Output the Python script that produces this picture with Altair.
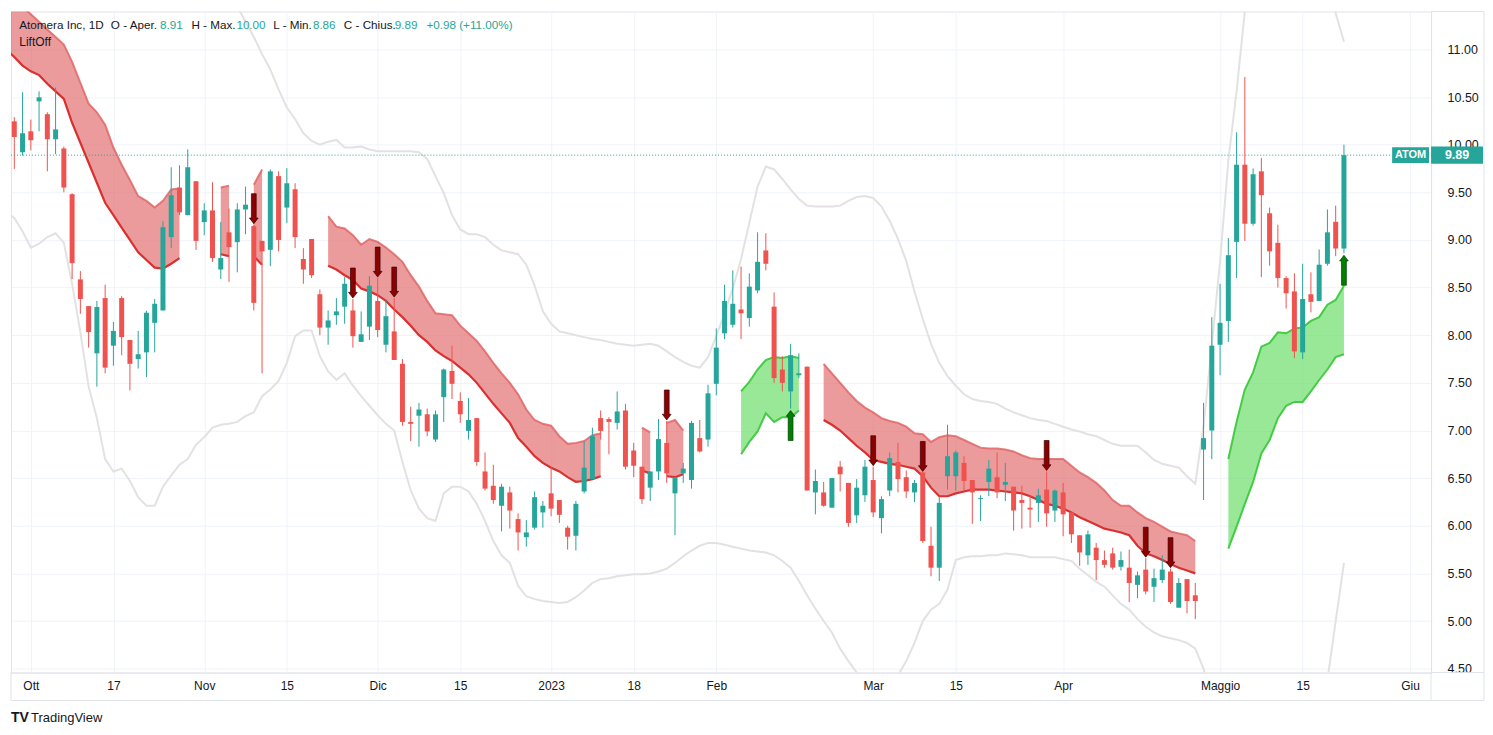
import altair as alt
import pandas as pd

TEAL = "#26a69a"
RED = "#ef5350"
DARK = "#131722"
FONT = "Liberation Sans"

# ---------------- OHLC (bar index 0 = 29 Sep 2022 ... 161 = 22 May 2023) -------------
opens = [10.245, 9.92, 10.14, 10.455, 10.32, 10.057, 9.96, 9.48, 8.586, 8.306,
         7.81, 8.39, 7.89, 8.39, 7.95, 7.75, 7.82, 8.13, 8.26, 9.03,
         9.55, 9.26, 9.616, 9.187, 9.31, 8.69, 9.08, 8.977, 9.32, 9.145,
         8.99, 8.896, 9.67, 9.34, 9.532, 8.80, 9.01, 8.43, 8.08, 8.21,
         8.30, 8.26, 7.93, 8.09, 8.36, 7.90, 8.04, 7.70, 7.09, 7.155,
         7.17, 6.905, 7.35, 7.625, 7.31, 6.996, 7.13, 6.57, 6.42, 6.21,
         6.35, 6.07, 5.88, 5.98, 6.14, 6.34, 6.27, 5.98, 5.895, 6.36,
         6.49, 7.13, 7.12, 7.08, 7.21, 6.79, 6.62, 6.40, 6.57, 6.87,
         6.34, 6.55, 6.48, 6.92, 6.905, 7.49, 8.02, 8.11, 8.27, 8.18,
         8.47, 8.89, 8.30, 7.64, 7.41, 7.58, 7.67, 6.35, 6.35, 6.19,
         6.62, 6.45, 6.11, 6.32, 6.48, 6.08, 6.37, 6.67, 6.51, 6.35,
         6.56, 5.79, 5.56, 6.52, 6.52, 6.66, 6.48, 6.28, 6.46, 6.51,
         6.43, 6.41, 6.27, 6.19, 6.24, 6.38, 6.16, 6.35, 6.14, 5.90,
         5.69, 5.77, 5.64, 5.71, 5.57, 5.56, 5.38, 5.54, 5.36, 5.43,
         5.52, 5.14, 5.44, 5.27, 6.80, 7.00, 7.90, 8.15, 8.98, 9.79,
         9.17, 9.72, 9.28, 8.97, 8.60, 8.46, 7.82, 8.43, 8.36, 8.75,
         9.19, 8.91]
highs = [10.29, 10.55, 10.263, 10.56, 10.34, 10.60, 9.98, 9.49, 8.673, 8.306,
         8.36, 8.53, 8.14, 8.41, 7.95, 8.045, 8.257, 8.38, 9.197, 9.763,
         9.784, 9.95, 9.616, 9.386, 9.606, 9.187, 9.33, 9.386, 9.56, 9.16,
         8.99, 9.74, 9.72, 9.753, 9.595, 8.914, 9.01, 8.48, 8.26, 8.39,
         8.61, 8.38, 8.25, 8.62, 8.60, 8.38, 8.39, 7.75, 7.25, 7.29,
         7.23, 7.21, 7.65, 7.89, 7.40, 7.34, 7.13, 6.77, 6.64, 6.44,
         6.41, 6.13, 6.06, 6.36, 6.26, 6.62, 6.27, 6.00, 6.26, 6.89,
         7.03, 7.21, 7.14, 7.41, 7.28, 6.87, 6.62, 6.57, 7.12, 7.10,
         6.51, 6.66, 7.10, 7.11, 7.48, 8.07, 8.53, 8.68, 8.72, 8.65,
         9.08, 9.07, 8.45, 7.78, 7.91, 7.81, 7.67, 6.59, 6.46, 6.50,
         6.68, 6.45, 6.49, 6.69, 6.62, 6.31, 6.77, 6.87, 6.58, 6.48,
         6.56, 5.99, 6.31, 7.06, 6.79, 6.73, 6.48, 6.32, 6.69, 6.77,
         6.66, 6.41, 6.42, 6.32, 6.39, 6.57, 6.38, 6.45, 6.14, 5.90,
         5.95, 5.82, 5.74, 5.77, 5.73, 5.75, 5.52, 5.66, 5.55, 5.69,
         5.55, 5.45, 5.44, 5.40, 7.29, 8.19, 8.54, 9.02, 10.13, 10.71,
         9.75, 9.86, 9.34, 9.16, 8.62, 8.65, 8.75, 8.66, 8.90, 9.32,
         9.36, 10.00]
lows = [9.745, 9.886, 9.94, 10.14, 9.72, 9.90, 9.50, 8.59, 8.225, 7.87,
        7.46, 7.60, 7.68, 7.79, 7.42, 7.65, 7.56, 7.82, 8.26, 8.914,
        9.26, 9.26, 8.896, 9.05, 8.77, 8.59, 8.56, 8.66, 9.06, 8.26,
        7.60, 8.725, 8.88, 9.176, 8.914, 8.54, 8.60, 8.00, 7.90, 8.11,
        8.12, 7.87, 7.93, 7.95, 7.98, 7.82, 7.74, 7.05, 6.89, 6.83,
        6.94, 6.88, 7.09, 7.33, 7.08, 6.905, 6.63, 6.37, 6.23, 5.94,
        5.97, 5.74, 5.78, 5.96, 5.98, 6.10, 6.03, 5.75, 5.74, 6.34,
        6.49, 6.905, 6.75, 7.01, 6.59, 6.51, 6.23, 6.26, 6.48, 6.45,
        5.90, 6.45, 6.39, 6.77, 6.83, 7.37, 7.96, 8.08, 7.96, 8.09,
        8.44, 8.68, 7.50, 7.41, 7.23, 7.55, 6.37, 6.12, 6.20, 6.19,
        6.36, 5.99, 6.03, 6.25, 6.09, 5.92, 6.31, 6.35, 6.29, 6.25,
        5.82, 5.47, 5.42, 6.38, 6.37, 6.37, 6.02, 6.05, 6.31, 6.29,
        6.26, 5.95, 5.97, 5.98, 6.04, 5.99, 6.04, 5.89, 5.82, 5.58,
        5.59, 5.43, 5.56, 5.54, 5.53, 5.20, 5.24, 5.28, 5.20, 5.40,
        5.18, 5.14, 5.08, 5.02, 6.27, 6.70, 7.58, 7.93, 8.60, 8.99,
        9.15, 8.61, 8.73, 8.50, 8.28, 7.76, 7.75, 8.24, 8.36, 8.73,
        8.83, 8.86]
closes = [10.08, 10.12, 10.046, 10.497, 10.057, 10.16, 9.55, 8.757, 8.38, 8.033,
          8.296, 7.66, 8.045, 7.98, 7.70, 7.80, 8.236, 8.33, 9.134, 9.47,
          9.29, 9.763, 8.99, 9.31, 8.81, 8.81, 8.925, 9.32, 9.37, 8.34,
          8.88, 9.72, 9.00, 9.595, 9.03, 8.69, 8.63, 8.08, 8.155, 8.25,
          8.54, 7.99, 8.01, 8.52, 8.055, 8.20, 7.74, 7.09, 7.07, 7.22,
          6.99, 7.17, 7.64, 7.49, 7.17, 7.11, 6.67, 6.39, 6.27, 6.41,
          6.16, 5.93, 5.93, 6.30, 6.21, 6.18, 6.115, 5.885, 6.23, 6.61,
          6.94, 6.996, 7.09, 7.20, 6.62, 6.63, 6.28, 6.57, 6.91, 6.55,
          6.51, 6.60, 7.08, 6.78, 7.39, 7.87, 8.36, 8.33, 8.23, 8.51,
          8.77, 8.75, 7.55, 7.50, 7.79, 7.60, 6.37, 6.47, 6.21, 6.50,
          6.54, 6.03, 6.40, 6.62, 6.14, 6.28, 6.71, 6.49, 6.36, 6.45,
          5.84, 5.56, 6.24, 6.73, 6.77, 6.47, 6.35, 6.29, 6.60, 6.35,
          6.46, 6.16, 6.24, 6.17, 6.32, 6.13, 6.37, 6.12, 5.91, 5.72,
          5.91, 5.64, 5.59, 5.56, 5.64, 5.40, 5.48, 5.31, 5.45, 5.54,
          5.20, 5.40, 5.21, 5.21, 6.92, 7.89, 8.13, 8.84, 9.79, 9.17,
          9.69, 9.47, 8.88, 8.60, 8.44, 7.83, 8.38, 8.35, 8.74, 9.08,
          8.91, 9.89]

# ---------------- grey envelope (upper / lower), first value = bar -1 ----------------
env_upper = [11.65,
             11.70, 11.75, 11.80, 11.85, 11.90, 11.95, 12.00, 12.10, 12.20, 12.30,
             12.40, 12.50, 12.55, 12.60, 12.60, 12.60, 12.55, 12.50, 12.40, 12.30,
             12.20, 12.10, 12.00, 11.90, 11.80, 11.70, 11.60, 11.45, 11.29, 11.13,
             10.95, 10.79, 10.58, 10.39, 10.27, 10.12, 10.04, 10.00, 10.03, 10.05,
             9.97, 9.97, 9.98, 9.95, 9.93, 9.93, 9.93, 9.93, 9.93, 9.92,
             9.85, 9.67, 9.49, 9.26, 9.11, 9.06, 9.06, 9.03, 8.95, 8.89,
             8.87, 8.85, 8.74, 8.52, 8.25, 8.12, 8.04, 8.02, 8.00, 7.98,
             7.96, 7.95, 7.93, 7.91, 7.90, 7.89, 7.90, 7.91, 7.89, 7.83,
             7.77, 7.72, 7.68, 7.66, 7.77, 7.99, 8.23, 8.49, 8.80, 9.18,
             9.56, 9.77, 9.74, 9.64, 9.53, 9.43, 9.36, 9.35, 9.35, 9.35,
             9.36, 9.41, 9.45, 9.46, 9.44, 9.35, 9.20, 9.01, 8.78, 8.46,
             8.17, 7.91, 7.71, 7.57, 7.47, 7.38, 7.33, 7.31, 7.30, 7.28,
             7.23, 7.19, 7.16, 7.13, 7.11, 7.10, 7.07, 7.04, 7.01, 6.99,
             6.96, 6.94, 6.90, 6.86, 6.84, 6.84, 6.84, 6.77, 6.69, 6.65,
             6.63, 6.61, 6.52, 6.44, 7.05, 7.89, 8.78, 9.83, 10.56, 11.40,
             12.10, 12.50, 12.70, 12.80, 12.80, 12.70, 12.60, 12.30, 12.00, 11.70,
             11.38, 11.08]
env_lower = [9.30,
             9.23, 9.09, 8.92, 8.96, 9.03, 9.07, 8.97, 8.54, 8.03, 7.46,
             7.13, 6.70, 6.57, 6.60, 6.47, 6.30, 6.21, 6.21, 6.41, 6.53,
             6.64, 6.70, 6.85, 6.93, 7.03, 7.06, 7.07, 7.09, 7.15, 7.19,
             7.36, 7.43, 7.52, 7.71, 7.99, 8.05, 8.05, 7.78, 7.62, 7.53,
             7.60, 7.47, 7.36, 7.26, 7.16, 7.07, 7.00, 6.67, 6.37, 6.18,
             6.08, 6.05, 6.34, 6.41, 6.41, 6.36, 6.23, 6.05, 5.84, 5.69,
             5.61, 5.37, 5.26, 5.23, 5.21, 5.20, 5.19, 5.20, 5.25, 5.32,
             5.40, 5.44, 5.45, 5.47, 5.48, 5.49, 5.49, 5.50, 5.52, 5.55,
             5.61, 5.68, 5.74, 5.79, 5.82, 5.82, 5.80, 5.78, 5.76, 5.74,
             5.73, 5.72, 5.69, 5.63, 5.56, 5.42, 5.27, 5.13, 5.00, 4.88,
             4.71, 4.58, 4.46, 4.27, 4.17, 4.17, 4.27, 4.43, 4.58, 4.77,
             5.00, 5.12, 5.18, 5.33, 5.64, 5.67, 5.68, 5.68, 5.69, 5.69,
             5.71, 5.70, 5.69, 5.67, 5.67, 5.67, 5.67, 5.65, 5.63, 5.55,
             5.48, 5.41, 5.36, 5.27, 5.18, 5.12, 5.02, 4.94, 4.88, 4.84,
             4.82, 4.80, 4.77, 4.71, 4.50, 4.17, 3.80, 3.50, 3.20, 3.00,
             2.90, 2.90, 3.00, 3.10, 3.30, 3.50, 3.70, 3.90, 4.10, 4.38,
             5.00, 5.61]

# ---------------- LiftOff bands (segments: start bar, upper, lower) ----------------
red_starts = [-1, 25, 29, 38, 76, 79, 98]
red_upper = [
    [11.61, 11.53, 11.45, 11.37, 11.29, 11.21, 11.13, 11.05, 10.87, 10.65, 10.43, 10.34,
     10.21, 9.97, 9.79, 9.63, 9.46, 9.41, 9.34, 9.41, 9.53, 9.54],
    [9.55, 9.57],
    [9.58, 9.74],
    [9.25, 9.14, 9.12, 9.05, 8.95, 9.01, 8.98, 8.92, 8.85, 8.77, 8.63, 8.51, 8.36,
     8.23, 8.22, 8.21, 8.10, 8.02, 7.94, 7.83, 7.71, 7.60, 7.50, 7.38, 7.22, 7.11,
     7.07, 7.05, 6.94, 6.86, 6.87, 6.89, 6.95, 6.97],
    [7.03, 6.98],
    [7.08, 7.11, 7.00],
    [7.70, 7.60, 7.50, 7.40, 7.31, 7.24, 7.19, 7.13, 7.10, 7.08, 7.04, 6.97, 6.96,
     6.88, 6.93, 6.95, 6.94, 6.90, 6.86, 6.82, 6.81, 6.81, 6.80, 6.78, 6.74, 6.71,
     6.70, 6.70, 6.70, 6.70, 6.63, 6.56, 6.51, 6.45, 6.37, 6.27, 6.21, 6.21, 6.14,
     6.08, 6.04, 5.99, 5.94, 5.92, 5.90, 5.84],
]
red_lower = [
    [11.00, 10.92, 10.83, 10.77, 10.73, 10.64, 10.56, 10.48, 10.23, 10.02, 9.81, 9.60,
     9.39, 9.26, 9.13, 9.00, 8.87, 8.79, 8.71, 8.70, 8.75, 8.81],
    [8.85, 8.83],
    [8.83, 8.74],
    [8.73, 8.69, 8.63, 8.58, 8.49, 8.46, 8.42, 8.36, 8.27, 8.19, 8.10, 8.00, 7.93,
     7.84, 7.78, 7.73, 7.66, 7.59, 7.50, 7.39, 7.28, 7.18, 7.08, 6.92, 6.83, 6.73,
     6.66, 6.61, 6.57, 6.51, 6.46, 6.47, 6.49, 6.52],
    [6.58, 6.55],
    [6.52, 6.51, 6.54],
    [7.11, 7.06, 7.00, 6.92, 6.84, 6.77, 6.69, 6.67, 6.65, 6.64, 6.62, 6.60, 6.52,
     6.40, 6.31, 6.31, 6.34, 6.36, 6.38, 6.38, 6.38, 6.37, 6.36, 6.35, 6.34, 6.31,
     6.27, 6.23, 6.21, 6.18, 6.14, 6.09, 6.05, 6.01, 5.97, 5.95, 5.93, 5.90, 5.79,
     5.71, 5.68, 5.64, 5.60, 5.56, 5.53, 5.50],
]
green_starts = [88, 147]
green_upper = [
    [7.41, 7.51, 7.64, 7.74, 7.77, 7.76, 7.78, 7.76],
    [6.70, 7.09, 7.43, 7.61, 7.88, 7.92, 8.03, 8.02, 8.07, 8.08, 8.15, 8.19, 8.32, 8.37, 8.52],
]
green_lower = [
    [6.75, 6.88, 6.99, 7.18, 7.09, 7.14, 7.14, 7.21],
    [5.76, 5.99, 6.23, 6.46, 6.76, 6.90, 7.13, 7.26, 7.30, 7.30, 7.41, 7.53, 7.64, 7.77, 7.80],
]

# signal arrows (bar indices)
sell_bars = [29, 41, 44, 46, 79, 104, 110, 125, 137, 140]
buy_bars = [94, 161]

# axis ticks
tick_bars = [2, 12, 23, 33, 44, 54, 65, 75, 85, 104, 114, 127, 146, 156, 169]
tick_labels = ["Ott", "17", "Nov", "15", "Dic", "15", "2023", "18", "Feb",
               "Mar", "15", "Apr", "Maggio", "15", "Giu"]
price_ticks = [4.5, 5.0, 5.5, 6.0, 6.5, 7.0, 7.5, 8.0, 8.5, 9.0, 9.5, 10.0, 10.5, 11.0]

n = len(closes)
assert len(opens) == n and len(highs) == n and len(lows) == n
assert len(env_upper) == n + 1 and len(env_lower) == n + 1

# ---------------- frames ----------------
candles = pd.DataFrame({
    "idx": list(range(n)), "o": opens, "h": highs, "l": lows, "c": closes,
})
candles["dir"] = ["up" if c >= o else "down" for o, c in zip(opens, closes)]

env = pd.DataFrame({"idx": list(range(-1, n)), "up": env_upper, "lo": env_lower})


def band_frame(starts, ups, los, kind):
    rows = []
    for k, (s, u, l) in enumerate(zip(starts, ups, los)):
        assert len(u) == len(l)
        for j, (uu, ll) in enumerate(zip(u, l)):
            rows.append({"idx": s + j, "up": uu, "lo": ll, "seg": f"{kind}{k}"})
    return pd.DataFrame(rows)


red_df = band_frame(red_starts, red_upper, red_lower, "r")
green_df = band_frame(green_starts, green_upper, green_lower, "g")

sell_df = pd.DataFrame({"idx": sell_bars, "y": [highs[i] for i in sell_bars]})
buy_df = pd.DataFrame({"idx": buy_bars, "y": [lows[i] for i in buy_bars]})
last_df = pd.DataFrame({"c": [closes[-1]], "lbl": [f"{closes[-1]:.2f}"], "sym": ["ATOM"]})

# ---------------- scales / axes ----------------
xscale = alt.Scale(domain=[-0.4, 171.55], nice=False, zero=False, padding=0)
yscale = alt.Scale(domain=[4.459, 11.398], nice=False, zero=False, padding=0)
lab_map = "{" + ",".join(f"'{b}':'{t}'" for b, t in zip(tick_bars, tick_labels)) + "}"
xaxis = alt.Axis(values=tick_bars, labelExpr=f"{lab_map}[datum.value]", title=None,
                 grid=True, ticks=False, labelPadding=8, labelFontSize=12,
                 labelFont=FONT, labelColor=DARK, domainColor="#e0e3eb",
                 gridColor="#f0f3fa", labelFlush=False)
yaxis = alt.Axis(values=price_ticks, format=".2f", orient="right", title=None,
                 grid=True, ticks=False, labelPadding=16, labelFontSize=12.5,
                 labelFont=FONT, labelColor=DARK, domainColor="#e0e3eb",
                 gridColor="#f0f3fa")


def X():
    return alt.X("idx:Q", scale=xscale, axis=xaxis, title=None)


def Y(field):
    return alt.Y(f"{field}:Q", scale=yscale, axis=yaxis, title=None)


dir_color = alt.Color("dir:N", scale=alt.Scale(domain=["up", "down"], range=[TEAL, RED]), legend=None)

# ---------------- layers ----------------
env_up = alt.Chart(env).mark_line(clip=True, color="#e2e2e2", strokeWidth=2).encode(x=X(), y=Y("up"))
env_lo = alt.Chart(env).mark_line(clip=True, color="#e2e2e2", strokeWidth=2).encode(x=X(), y=Y("lo"))

wick = alt.Chart(candles).mark_rule(strokeWidth=1).encode(
    x=X(), y=Y("l"), y2="h:Q", color=dir_color)
body = alt.Chart(candles).mark_bar(size=5).encode(
    x=X(), y=Y("o"), y2="c:Q", color=dir_color)

red_area = alt.Chart(red_df).mark_area(clip=True, color="#e06666", opacity=0.65).encode(
    x=X(), y=Y("up"), y2="lo:Q", detail="seg:N")
red_top = alt.Chart(red_df).mark_line(clip=True, color="#e06060", strokeWidth=2, opacity=0.8).encode(
    x=X(), y=Y("up"), detail="seg:N")
red_bot = alt.Chart(red_df).mark_line(clip=True, color="#d93030", strokeWidth=2.2).encode(
    x=X(), y=Y("lo"), detail="seg:N")

green_area = alt.Chart(green_df).mark_area(clip=True, color="#61dc61", opacity=0.65).encode(
    x=X(), y=Y("up"), y2="lo:Q", detail="seg:N")
green_top = alt.Chart(green_df).mark_line(clip=True, color="#44cc44", strokeWidth=2).encode(
    x=X(), y=Y("up"), detail="seg:N")
green_bot = alt.Chart(green_df).mark_line(clip=True, color="#44cc44", strokeWidth=2).encode(
    x=X(), y=Y("lo"), detail="seg:N")

DOWN_ARROW = "M-0.16,-1 L0.16,-1 L0.16,0.62 L0.29,0.62 L0,1 L-0.29,0.62 L-0.16,0.62 Z"
UP_ARROW = "M-0.16,1 L0.16,1 L0.16,-0.62 L0.29,-0.62 L0,-1 L-0.29,-0.62 L-0.16,-0.62 Z"
sell = alt.Chart(sell_df).mark_point(shape=DOWN_ARROW, size=900, filled=True, fill="#8b0000",
                                     stroke="#3a0000", strokeWidth=0.7, opacity=1,
                                     yOffset=-16).encode(x=X(), y=Y("y"))
buy = alt.Chart(buy_df).mark_point(shape=UP_ARROW, size=900, filled=True, fill="#008000",
                                   stroke="#003a00", strokeWidth=0.7, opacity=1,
                                   yOffset=17).encode(x=X(), y=Y("y"))

last_line = alt.Chart(last_df).mark_rule(color=TEAL, strokeDash=[1, 2], strokeWidth=1).encode(
    y=Y("c"), x=alt.value(0), x2=alt.value(1383))
box_sym = alt.Chart(last_df).mark_point(shape="M-1,-0.43 L1,-0.43 L1,0.43 L-1,0.43 Z", size=1369,
                                        filled=True, color=TEAL, opacity=1).encode(
    y=Y("c"), x=alt.value(1401.5))
box_val = alt.Chart(last_df).mark_point(shape="M-1,-0.33 L1,-0.33 L1,0.33 L-1,0.33 Z", size=2704,
                                        filled=True, color=TEAL, opacity=1).encode(
    y=Y("c"), x=alt.value(1448))
txt_sym = alt.Chart(last_df).mark_text(color="white", font=FONT, fontSize=11, fontWeight="bold",
                                       align="center", baseline="middle").encode(
    y=Y("c"), x=alt.value(1401.5), text="sym:N")
txt_val = alt.Chart(last_df).mark_text(color="white", font=FONT, fontSize=12.5, fontWeight="bold",
                                       align="center", baseline="middle").encode(
    y=Y("c"), x=alt.value(1448), text="lbl:N")

# header legend text
o_, h_, l_, c_ = opens[-1], highs[-1], lows[-1], closes[-1]
chg = c_ - closes[-2]
hdr = pd.DataFrame({
    "t": ["Atomera Inc, 1D", "O - Aper.", f"{o_:.2f}", "H - Max.", f"{h_:.2f}",
          "L - Min.", f"{l_:.2f}", "C - Chius.", f"{c_:.2f}",
          f"{chg:+.2f} ({chg / closes[-2] * 100:+.2f}%)"],
    "px": [8.3, 100, 149.3, 180.7, 225.7, 262.7, 302.3, 333.3, 384.3, 416],
    "col": [DARK, DARK, TEAL, DARK, TEAL, DARK, TEAL, DARK, TEAL, TEAL],
})
header = alt.Chart(hdr).mark_text(font=FONT, fontSize=11.7, align="left", baseline="middle").encode(
    x=alt.X("px:Q", scale=None, axis=None), y=alt.value(14), text="t:N",
    color=alt.Color("col:N", scale=None))
ind_name = alt.Chart(pd.DataFrame({"t": ["LiftOff"]})).mark_text(
    font=FONT, fontSize=12, align="left", baseline="middle", color=DARK).encode(
    x=alt.value(8.3), y=alt.value(31), text="t:N")

logo_icon = alt.Chart(pd.DataFrame({"t": ["TV"]})).mark_text(
    font=FONT, fontSize=14, fontWeight="bold", align="left", baseline="middle", color=DARK).encode(
    x=alt.value(0), y=alt.value(707), text="t:N")
logo_txt = alt.Chart(pd.DataFrame({"t": ["TradingView"]})).mark_text(
    font=FONT, fontSize=13, align="left", baseline="middle", color=DARK).encode(
    x=alt.value(20), y=alt.value(707), text="t:N")

one = pd.DataFrame({"a": [0]})
frame_color = "#e0e3eb"
b1 = alt.Chart(one).mark_rule(color=frame_color).encode(x=alt.value(1475), y=alt.value(0), y2=alt.value(690))
b2 = alt.Chart(one).mark_rule(color=frame_color).encode(x=alt.value(0), x2=alt.value(1475), y=alt.value(690))
b3 = alt.Chart(one).mark_rule(color=frame_color).encode(x=alt.value(1422), x2=alt.value(1475), y=alt.value(662))
b4 = alt.Chart(one).mark_rule(color=frame_color).encode(x=alt.value(1422), y=alt.value(662), y2=alt.value(690))
b5 = alt.Chart(one).mark_rule(color=frame_color).encode(x=alt.value(0), y=alt.value(662), y2=alt.value(690))
b6 = alt.Chart(one).mark_rule(color=frame_color).encode(x=alt.value(1422), x2=alt.value(1475), y=alt.value(0))

chart = alt.layer(
    env_up, env_lo, red_area, green_area, red_top, red_bot, green_top, green_bot,
    wick, body, sell, buy, last_line, box_sym, box_val, txt_sym, txt_val,
    header, ind_name, logo_icon, logo_txt, b1, b2, b3, b4, b5, b6,
).properties(
    width=1422, height=662,
    padding={"left": 2, "top": 2, "right": 0, "bottom": 0},
    background="white",
).configure_view(stroke=frame_color, strokeWidth=1)

chart.save("out.html", embed_options={"renderer": "svg", "actions": False})
